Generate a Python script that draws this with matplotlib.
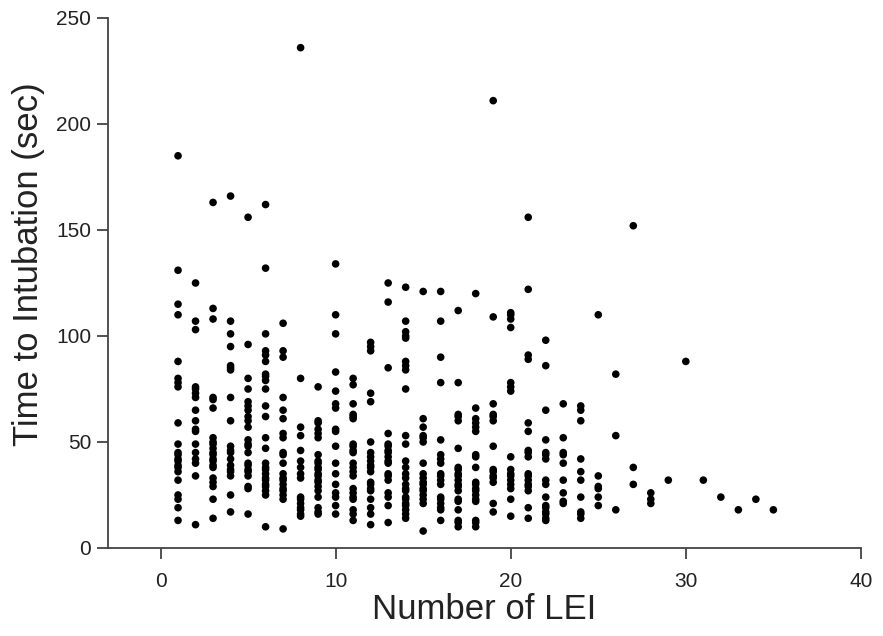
import numpy as np
import matplotlib
matplotlib.use("Agg")
from matplotlib import pyplot as plt

plt.rcParams['font.family'] = ['Liberation Sans', 'DejaVu Sans']

# time to intubation (sec) for each number of LEI
lei_1 = [185, 131, 115, 110, 88, 80, 78, 76, 59, 49, 45, 44, 42, 41, 39, 38, 36, 32, 25, 23, 19, 13]
lei_2 = [125, 107, 103, 76, 75, 73, 71, 65, 60, 56, 55, 49, 45, 42, 40, 34, 11]
lei_3 = [163, 113, 108, 71, 70, 66, 52, 50, 49, 47, 45, 44, 42, 41, 39, 38, 33, 31, 29, 23, 14]
lei_4 = [166, 107, 101, 95, 86, 85, 84, 71, 60, 48, 46, 45, 42, 39, 37, 36, 34, 25, 17]
lei_5 = [156, 96, 80, 75, 69, 67, 65, 62, 60, 57, 51, 49, 48, 45, 40, 39, 37, 36, 34, 29, 28, 16]
lei_6 = [162, 132, 101, 93, 91, 88, 82, 81, 79, 75, 67, 62, 52, 47, 40, 38, 37, 35, 33, 32, 30, 29, 27, 25, 10]
lei_7 = [106, 93, 90, 71, 65, 61, 54, 52, 45, 44, 40, 35, 33, 32, 30, 28, 27, 25, 23, 9]
lei_8 = [236, 80, 57, 53, 46, 41, 38, 35, 33, 24, 23, 21, 19, 18, 16, 15]
lei_9 = [76, 60, 59, 56, 54, 52, 44, 41, 40, 38, 37, 35, 34, 32, 31, 29, 27, 24, 19, 17, 16]
lei_10 = [134, 110, 101, 83, 74, 68, 66, 56, 55, 48, 40, 35, 30, 26, 24, 20, 16]
lei_11 = [80, 77, 68, 63, 62, 61, 49, 48, 46, 45, 40, 38, 36, 34, 28, 26, 24, 23, 18, 16, 13]
lei_12 = [97, 95, 93, 73, 69, 50, 45, 43, 41, 39, 38, 36, 31, 30, 28, 27, 23, 19, 16, 11]
lei_13 = [125, 116, 85, 54, 49, 48, 46, 45, 43, 41, 40, 35, 34, 32, 26, 24, 20, 12]
lei_14 = [123, 107, 102, 100, 99, 88, 86, 84, 75, 53, 49, 41, 38, 35, 33, 30, 28, 27, 24, 23, 21, 20, 18, 16, 14]
lei_15 = [121, 61, 57, 53, 52, 50, 40, 35, 33, 31, 30, 28, 27, 25, 23, 21, 8]
lei_16 = [121, 107, 90, 78, 51, 44, 42, 40, 35, 34, 32, 30, 24, 23, 21, 19, 18, 13]
lei_17 = [112, 78, 63, 62, 60, 47, 38, 37, 35, 34, 32, 30, 29, 27, 23, 22, 18, 13, 12, 10]
lei_18 = [120, 66, 61, 59, 57, 55, 44, 43, 38, 31, 30, 28, 27, 25, 23, 22, 13, 12, 10]
lei_19 = [211, 109, 68, 63, 62, 60, 48, 37, 36, 34, 33, 31, 21, 17]
lei_20 = [111, 110, 108, 104, 78, 76, 74, 43, 37, 35, 34, 32, 30, 28, 23, 15]
lei_21 = [156, 122, 91, 89, 59, 55, 46, 45, 43, 35, 34, 32, 30, 29, 27, 19, 14]
lei_22 = [98, 86, 65, 51, 45, 44, 42, 32, 30, 24, 20, 19, 17, 16, 14, 13]
lei_23 = [68, 52, 45, 44, 40, 32, 26, 22, 21]
lei_24 = [67, 65, 60, 42, 36, 32, 24, 17, 16, 14]
lei_25 = [110, 34, 29, 28, 24, 20]
lei_26 = [82, 53, 18]
lei_27 = [152, 38, 30]
lei_28 = [26, 23, 21]
lei_29 = [32]
lei_30 = [88]
lei_31 = [32]
lei_32 = [24]
lei_33 = [18]
lei_34 = [23]
lei_35 = [18]

columns = [lei_1, lei_2, lei_3, lei_4, lei_5, lei_6, lei_7, lei_8, lei_9, lei_10,
           lei_11, lei_12, lei_13, lei_14, lei_15, lei_16, lei_17, lei_18, lei_19, lei_20,
           lei_21, lei_22, lei_23, lei_24, lei_25, lei_26, lei_27, lei_28, lei_29, lei_30,
           lei_31, lei_32, lei_33, lei_34, lei_35]

x = []
y = []
for n, col in enumerate(columns, start=1):
    x += [n] * len(col)
    y += col

fig = plt.figure(figsize=(8.83, 6.36), dpi=100)
ax = fig.add_axes([0.1223, 0.1384, 0.8527, 0.8333])

ax.scatter(x, y, s=30, color='black', edgecolors='none', zorder=3)

ax.set_xlim(-3, 40)
ax.set_ylim(0, 250)
ax.set_xticks([0, 10, 20, 30, 40])
ax.set_yticks([0, 50, 100, 150, 200, 250])

for side in ['top', 'right']:
    ax.spines[side].set_visible(False)
for side in ['left', 'bottom']:
    ax.spines[side].set_linewidth(1.3)
    ax.spines[side].set_color('#444444')

ax.tick_params(direction='out', length=8, width=1.1, colors='#222222', labelsize=15, pad=4)
ax.tick_params(axis='x', pad=9)

ax.set_xlabel('Number of LEI', fontsize=25, color='#222222', labelpad=2)
ax.set_ylabel('Time to Intubation (sec)', fontsize=25, color='#222222')
ax.yaxis.set_label_coords(-0.083, 0.535)

fig.savefig('out.png', dpi=100)
